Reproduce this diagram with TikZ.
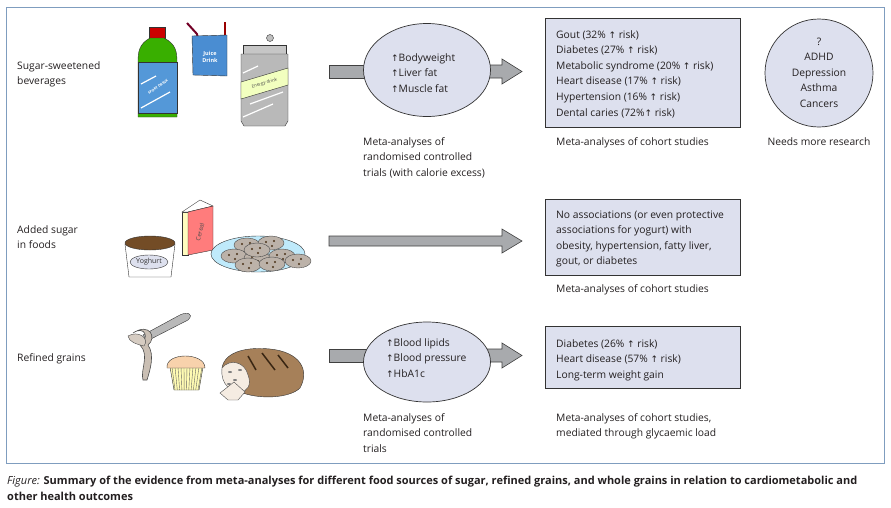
\documentclass[tikz,border=0pt]{standalone}
\usepackage{fontspec}
\setmainfont{Open Sans}
\newfontfamily\symf{DejaVu Sans}
\usetikzlibrary{shapes.geometric}
\newcommand{\up}{{\symf\fontsize{9}{10}\selectfont ↑}}
\newcommand{\ml}[2][l]{\begin{tabular}[t]{@{}#1@{}}#2\end{tabular}}
\definecolor{fillc}{HTML}{DDE0EE}
\definecolor{arrc}{HTML}{A8AAAD}
\definecolor{frame}{HTML}{7F9DBF}
\definecolor{txt}{HTML}{231F20}
\begin{document}
\begin{tikzpicture}[x=1pt,y=-1pt,
  lbl/.style={anchor=base west,inner sep=0,font=\fontsize{10.3}{15.6}\selectfont,text=txt},
  ctr/.style={anchor=base,inner sep=0,font=\fontsize{10.3}{15.6}\selectfont,text=txt},
  ell/.style={ellipse,draw=black!80,fill=fillc,line width=0.7pt,inner sep=0},
  box/.style={draw=black!80,fill=fillc,line width=0.7pt},
  fat/.style={draw=black!75,fill=arrc,line width=0.6pt}]
\useasboundingbox (0,0) rectangle (891,507);
\draw[frame,line width=1pt] (6,7) rectangle (884,463);

% row labels
\node[lbl] (l1) at (17,69) {\ml{Sugar-sweetened\\beverages}};
\node[lbl] (l2) at (17,233) {\ml{Added sugar\\in foods}};
\node[lbl] (l3) at (17,361) {Refined grains};

% ---------- row 1 ----------
\draw[fat] (329,65) -- (370,65) -- (370,78) -- (329,78) -- cycle;
\draw[fat] (484,65) -- (502,65) -- (502,59) -- (522,71.5) -- (502,84) -- (502,78) -- (484,78) -- cycle;
\node[ell,minimum width=127,minimum height=93] (e1) at (427,70) {};
\node[lbl] at (391,61) {\ml{\up Bodyweight\\\up Liver fat\\\up Muscle fat}};
\node[lbl] (c1) at (363,145) {\ml{Meta-analyses of\\randomised controlled\\trials (with calorie excess)}};
\draw[box] (545,18) rectangle (740,127);
\node[lbl] (b1) at (556,38) {\ml{Gout (32\% \up\ risk)\\Diabetes (27\% \up\ risk)\\Metabolic syndrome (20\% \up\ risk)\\Heart disease (17\% \up\ risk)\\Hypertension (16\% \up\ risk)\\Dental caries (72\%\up\ risk)}};
\node[lbl] (d1) at (556,145) {Meta-analyses of cohort studies};
\node[circle,draw=black!80,fill=fillc,line width=0.7pt,minimum size=108,inner sep=0] (q) at (819,73) {};
\node[ctr] at (819,45) {\ml[c]{?\\ADHD\\Depression\\Asthma\\Cancers}};
\node[ctr] (n1) at (819,145) {Needs more research};

% ---------- row 2 ----------
\draw[fat] (329,236) -- (502,236) -- (502,229) -- (522,241) -- (502,253) -- (502,246) -- (329,246) -- cycle;
\draw[box] (545,199) rectangle (740,275);
\node[lbl] (b2) at (556,218) {\ml{No associations (or even protective\\associations for yogurt) with\\obesity, hypertension, fatty liver,\\gout, or diabetes}};
\node[lbl] (d2) at (556,292) {Meta-analyses of cohort studies};

% ---------- row 3 ----------
\draw[fat] (329,349) -- (370,349) -- (370,362) -- (329,362) -- cycle;
\draw[fat] (484,349) -- (502,349) -- (502,343) -- (522,355.5) -- (502,368) -- (502,362) -- (484,362) -- cycle;
\node[ell,minimum width=127,minimum height=80] (e3) at (427,362) {};
\node[lbl] at (386,346) {\ml{\up Blood lipids\\\up Blood pressure\\\up HbA1c}};
\node[lbl] (c3) at (363,421) {\ml{Meta-analyses of\\randomised controlled\\trials}};
\draw[box] (545,326) rectangle (740,388);
\node[lbl] (b3) at (556,347) {\ml{Diabetes (26\% \up\ risk)\\Heart disease (57\% \up\ risk)\\Long-term weight gain}};
\node[lbl] (d3) at (556,421) {\ml{Meta-analyses of cohort studies,\\mediated through glycaemic load}};

% ---------- illustrations row 1 ----------
\draw[black!80,fill=red!80!black] (149,27) rectangle (165,38);
\draw[black!80,fill=green!55!black!70!lime] (150,38) -- (164,38) .. controls (176,44) and (177,52) .. (177,62) -- (177,117) -- (138,117) -- (138,62) .. controls (138,52) and (139,44) .. (150,38) -- cycle;
\draw[black!80,fill=cyan!60!blue!70] (138,62) rectangle (177,113);
\draw[white,line width=1.2pt] (141,84) -- (156,76) (141,108) -- (170,92);
\node[rotate=35,text=white,font=\fontsize{3.5}{4}\selectfont\bfseries] at (158,87) {SPORT DRINK};
\draw[purple!60!black,line width=2pt] (199,44) -- (197,34) -- (187,23);
\draw[red!60!black,line width=2.5pt] (225,22) -- (225,38);
\draw[black!80,fill=cyan!55!blue!75] (192,36) -- (227,35) -- (227,76) -- (193,75) -- cycle;
\node[text=white,font=\fontsize{5.5}{6.5}\selectfont\bfseries,align=center] at (210,57) {Juice\\Drink};
\draw[black!80,fill=gray!50] (270,38) circle (3.5);
\draw[black!80,fill=gray!45] (243,45) rectangle (286,54);
\draw[black!80,fill=gray!55] (241,54) -- (288,54) -- (288,121) -- (285,126) -- (244,126) -- (241,121) -- cycle;
\draw[black!80,fill=green!20!yellow!25] (241,82) -- (288,68) -- (288,85) -- (241,99) -- cycle;
\node[rotate=17,font=\fontsize{4.5}{5}\selectfont,text=black!70] at (264.5,83.5) {Energy drink};
\draw[white,line width=1.2pt] (243,73) -- (258,66) (243,117) -- (273,104) (250,104) -- (283,92);

% ---------- illustrations row 2 ----------
\draw[black!80,fill=white] (125,244) -- (175,244) -- (171,277) -- (129,277) -- cycle;
\draw[black!80,fill=brown!60!black] (150,243) ellipse (25 and 7);
\draw[black!80,fill=fillc] (149,262) ellipse (19 and 7);
\node[font=\fontsize{7}{8}\selectfont,text=black!80] at (149,262) {Yoghurt};
\draw[black!80,fill=yellow!25] (182,212) -- (188,212) -- (188,255) -- (182,255) -- cycle;
\draw[black!80,fill=white] (182,212) -- (200,200) -- (213,206) -- (188,212) -- cycle;
\draw[black!80,fill=red!35!pink] (188,212) -- (213,206) -- (213,250) -- (188,255) -- cycle;
\node[rotate=75,font=\fontsize{6}{7}\selectfont,text=black!70] at (200,232) {Cereal};
\draw[black!80,fill=cyan!25] (258,254) ellipse (47 and 18);
\foreach \cx/\cy in {247/245,271/243,234/256,257/258,282/256,298/261,248/265,272/264,257/250} {
  \draw[black!70,fill=brown!25!gray!60] (\cx,\cy) ellipse (13 and 7);
  \fill[brown!40!black] (\cx-5,\cy-1) circle (1.2) (\cx+3,\cy-2) circle (1.2) (\cx+1,\cy+3) circle (1.2);
}

% ---------- illustrations row 3 ----------
\draw[black!80,fill=gray!55] (143,335) -- (178,316) .. controls (186,311) and (195,313) .. (188,320) -- (147,341) -- cycle;
\draw[black!70,fill=brown!35!gray!50,line width=0.6pt] (133,333) .. controls (145,325) and (150,338) .. (140,345) .. controls (150,355) and (140,370) .. (143,380) -- (147,380) .. controls (150,370) and (155,355) .. (148,345) .. controls (157,338) and (150,322) .. (133,333) -- cycle;
\draw[black!70,fill=brown!40!gray!40] (128,336) .. controls (138,330) and (150,338) .. (144,346) .. controls (136,344) and (129,342) .. (128,336) -- cycle;
\draw[black!80,fill=yellow!30] (170,367) -- (203,367) -- (199,390) -- (174,390) -- cycle;
\foreach \i in {0,...,10} \draw[black!60] (172+3*\i,367) -- (175+2.3*\i,390);
\draw[black!80,fill=brown!30!orange!35] (167,368) .. controls (165,352) and (205,352) .. (205,368) -- cycle;
\draw[black!80,fill=brown!60!gray] (222,368) .. controls (225,350) and (250,347) .. (270,349) .. controls (300,352) and (310,370) .. (300,388) .. controls (290,398) and (260,400) .. (240,392) -- cycle;
\draw[black!70,fill=white!85!brown] (222,368) .. controls (230,358) and (245,362) .. (248,375) .. controls (252,385) and (247,392) .. (240,392) .. controls (232,392) and (220,385) .. (222,368) -- cycle;
\draw[black!70,fill=white!85!brown] (220,393) -- (234,382) -- (245,392) -- (238,400) -- (228,400) -- cycle;
\draw[brown!30!black,line width=1.5pt] (248,356) -- (256,370) (262,353) -- (275,370) (278,355) -- (288,368);
\foreach \x/\y in {230/372,235/380,240/370,229/384} \fill[gray] (\x,\y) ellipse (2 and 1);

% caption
\node[anchor=base west,inner sep=0,font=\fontsize{11}{13}\selectfont\bfseries,text=txt] (cap) at (7,484) {\textit{\mdseries Figure:} Summary of the evidence from meta-analyses for different food sources of sugar, refined grains, and whole grains in relation to cardiometabolic and};
\node[anchor=base west,inner sep=0,font=\fontsize{11}{13}\selectfont\bfseries,text=txt] at (7,500) {other health outcomes};
\end{tikzpicture}
\end{document}
